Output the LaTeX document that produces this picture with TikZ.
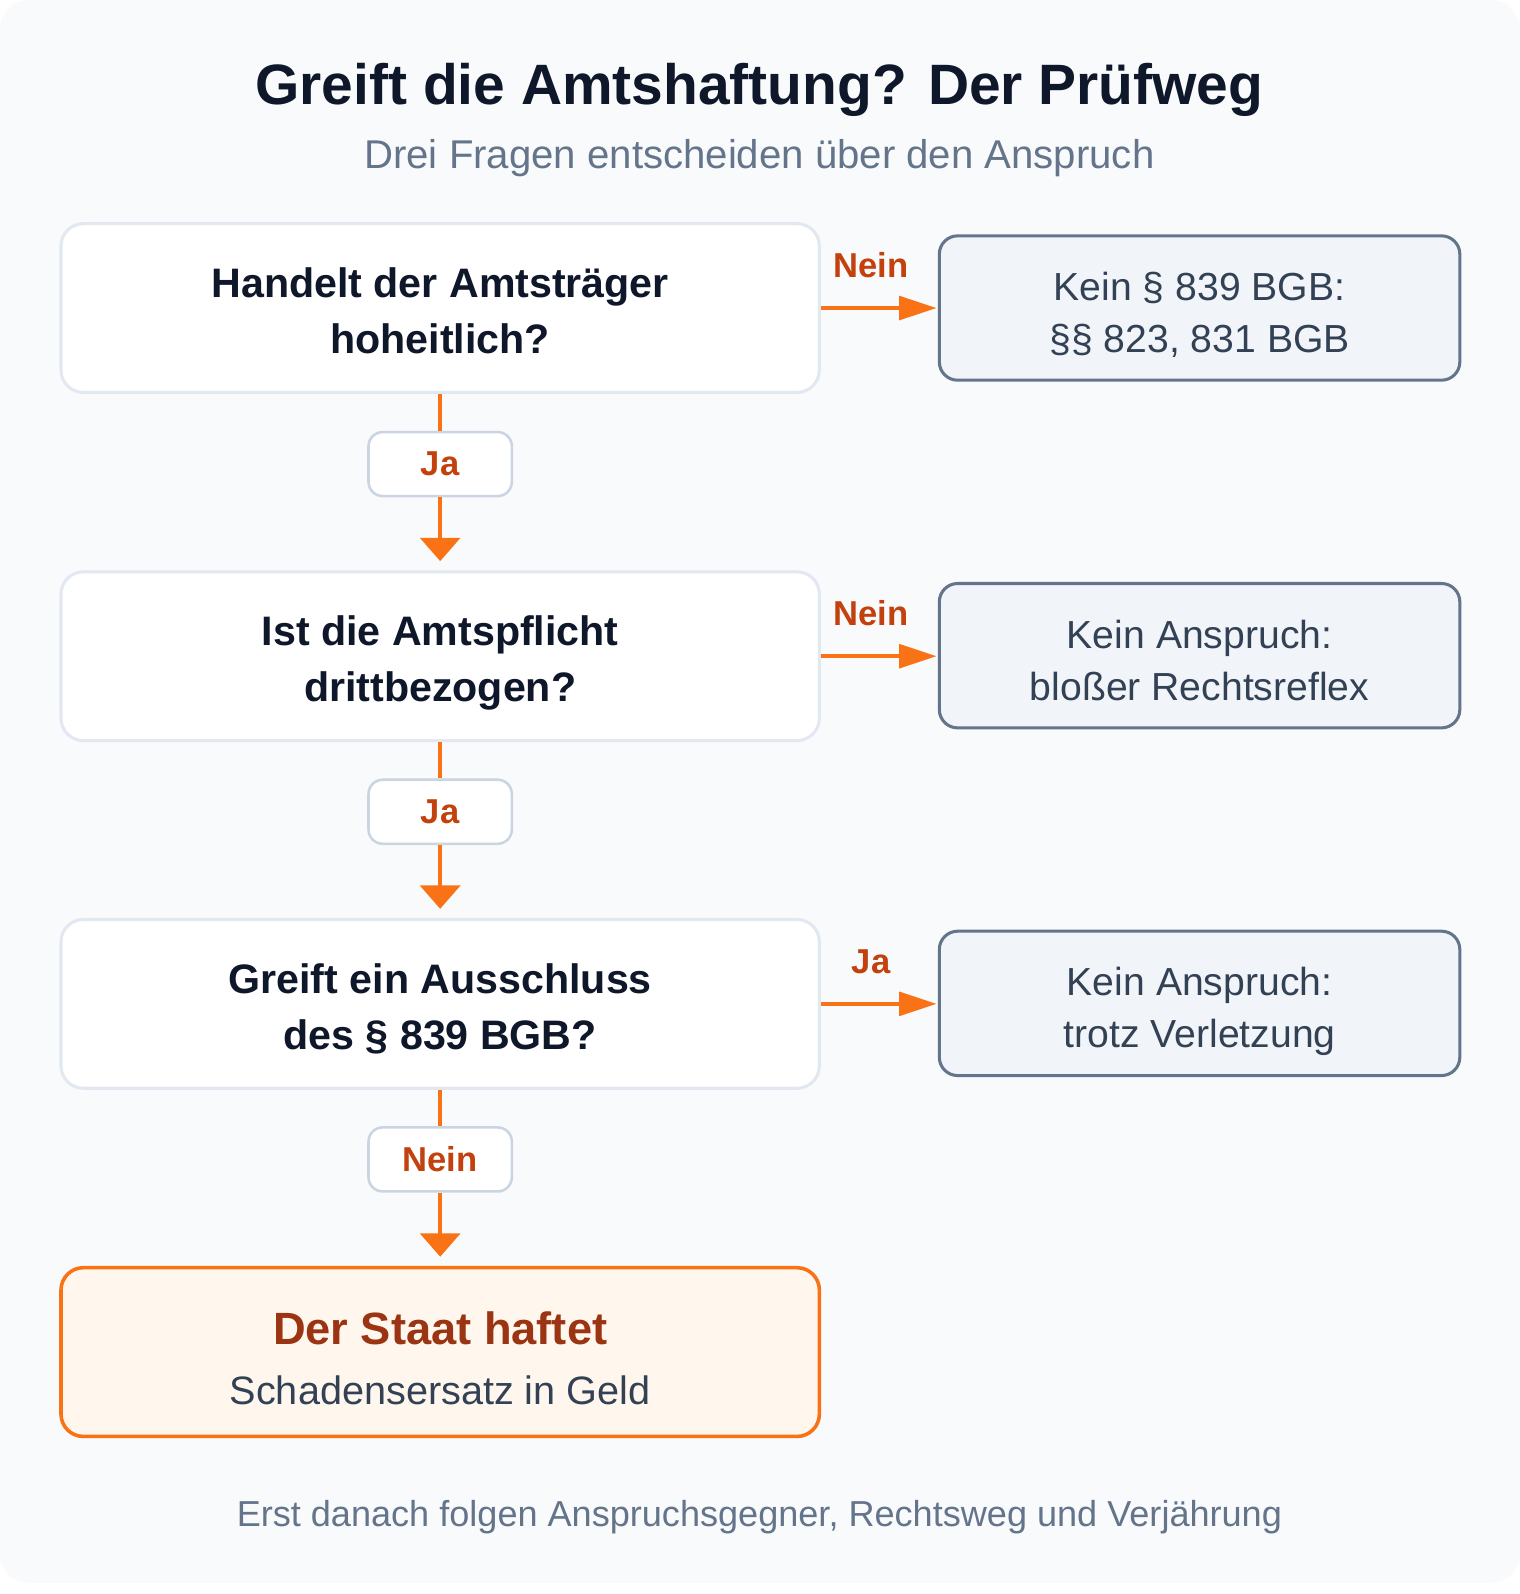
\documentclass[tikz,border=0pt]{standalone}
\usepackage{fontspec}
\setmainfont{Liberation Sans}
\usetikzlibrary{arrows.meta}
\definecolor{bgc}{HTML}{F8FAFC}
\definecolor{titlec}{HTML}{0F172A}
\definecolor{subc}{HTML}{64748B}
\definecolor{qborder}{HTML}{E2E8F0}
\definecolor{rborder}{HTML}{64748B}
\definecolor{rfill}{HTML}{F1F5F9}
\definecolor{rtext}{HTML}{334155}
\definecolor{lborder}{HTML}{CBD5E1}
\definecolor{lblc}{HTML}{C2410C}
\definecolor{arrc}{HTML}{F97316}
\definecolor{ffill}{HTML}{FFF7ED}
\definecolor{ftitle}{HTML}{9A3412}
\newcommand\mytwolines[3]{\raisebox{#1}[\height][\depth]{\begin{tabular}{@{}c@{}}#2\\#3\end{tabular}}}
\tikzset{
  qbox/.style={draw=qborder, line width=3pt, fill=white, rounded corners=22pt,
    minimum width=746pt, minimum height=166pt, align=center, inner sep=0pt,
    text=titlec, font=\fontsize{40.5}{55}\selectfont\bfseries},
  rbox/.style={draw=rborder, line width=3pt, fill=rfill, rounded corners=18pt,
    minimum width=512pt, minimum height=142pt, align=center, inner sep=0pt,
    text=rtext, font=\fontsize{38.5}{51}\selectfont},
  lbox/.style={draw=lborder, line width=2.5pt, fill=white, rounded corners=14pt,
    minimum width=141pt, minimum height=63pt, inner sep=0pt,
    text=lblc, font=\fontsize{34}{36}\selectfont\bfseries},
  hlabel/.style={inner sep=0pt, text=lblc, font=\fontsize{34}{36}\selectfont\bfseries},
  fbox/.style={draw=arrc, line width=3.5pt, fill=ffill, rounded corners=22pt,
    minimum width=746pt, minimum height=166pt, align=center, inner sep=0pt},
  vline/.style={draw=arrc, line width=4.5pt},
  varrow/.style={draw=arrc, line width=4.5pt, -{Triangle[width=39pt,length=23pt]}},
  harrow/.style={draw=arrc, line width=4.5pt, -{Triangle[width=23pt,length=37pt]}},
}
\begin{document}
\begin{tikzpicture}[x=1pt,y=-1pt]
\useasboundingbox (0,0) rectangle (1495,1568);
\fill[bgc, rounded corners=28pt] (0,0) rectangle (1495,1557);

\node[text=titlec, font=\fontsize{56}{60}\selectfont\bfseries] (title) at (747,88) {Greift die Amtshaftung? Der Prüfweg};
\node[text=subc, font=\fontsize{39.5}{42}\selectfont] (sub) at (747,156) {Drei Fragen entscheiden über den Anspruch};

\node[qbox] (q1) at (433,303) {\mytwolines{-6pt}{Handelt der Amtsträger}{hoheitlich?}};
\node[qbox] (q2) at (433,645.5) {\mytwolines{-6pt}{Ist die Amtspflicht}{drittbezogen?}};
\node[qbox] (q3) at (433,987.5) {\mytwolines{-6pt}{Greift ein Ausschluss}{des § 839 BGB?}};
\node[fbox] (f) at (433,1330) {\raisebox{-7.5pt}[\height][\depth]{\begin{tabular}{@{}c@{}}{\fontsize{44.5}{50}\selectfont\bfseries\color{ftitle}Der Staat haftet}\\[27pt]{\fontsize{39}{42}\selectfont\color{rtext}Schadensersatz in Geld}\end{tabular}}};

\node[rbox] (r1) at (1180,303) {\mytwolines{-8pt}{Kein § 839 BGB:}{§§ 823, 831 BGB}};
\node[rbox] (r2) at (1180,645) {\mytwolines{-8pt}{Kein Anspruch:}{bloßer Rechtsreflex}};
\node[rbox] (r3) at (1180,987) {\mytwolines{-8pt}{Kein Anspruch:}{trotz Verletzung}};

\node[lbox] (l1) at (433,456.5) {Ja};
\node[lbox] (l2) at (433,798.5) {Ja};
\node[lbox] (l3) at (433,1140.5) {Nein};

\draw[vline] (q1.south) -- (l1.north);
\draw[varrow] (l1.south) -- ([yshift=9pt]q2.north);
\draw[vline] (q2.south) -- (l2.north);
\draw[varrow] (l2.south) -- ([yshift=9pt]q3.north);
\draw[vline] (q3.south) -- (l3.north);
\draw[varrow] (l3.south) -- ([yshift=9pt]f.north);

\draw[harrow] (q1.east) -- ([xshift=-1pt]r1.west);
\draw[harrow] (q2.east) -- ([xshift=-1pt]r2.west |- q2.east);
\draw[harrow] (q3.east) -- ([xshift=-1pt]r3.west |- q3.east);

\node[hlabel] (h1) at (857,261) {Nein};
\node[hlabel] (h2) at (857,603) {Nein};
\node[hlabel] (h3) at (857,946) {Ja};

\node[text=subc, font=\fontsize{35.5}{40}\selectfont] (foot) at (747,1492) {Erst danach folgen Anspruchsgegner, Rechtsweg und Verjährung};
\end{tikzpicture}
\end{document}
